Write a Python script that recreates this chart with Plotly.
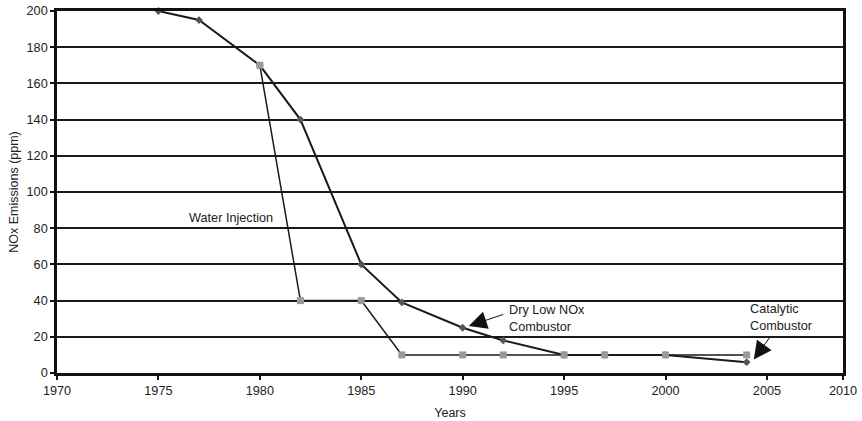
import plotly.graph_objects as go

# ---- data ----
dln_years = [1975, 1977, 1980, 1982, 1985, 1987, 1990, 1992, 1995, 1997, 2000, 2004]
dln_nox = [200, 195, 170, 140, 60, 39, 25, 18, 10, 10, 10, 6]

wi_years = [1980, 1982, 1985, 1987, 1990, 1992, 1995, 1997, 2000, 2004]
wi_nox = [170, 40, 40, 10, 10, 10, 10, 10, 10, 10]

x_tick_labels = ["1970", "1975", "1980", "1985", "1990", "1995", "2000", "2005", "2010"]
y_ticks = [0, 20, 40, 60, 80, 100, 120, 140, 160, 180, 200]

X_MIN = 1970
X_MAX = 2008.75  # right border of the plotted area in the reference
x_tick_vals = [1970, 1975, 1980, 1985, 1990, 1995, 2000, 2005, X_MAX]

FONT = "Liberation Sans, Arial, sans-serif"
TXT = "#222222"

fig = go.Figure()

fig.add_trace(go.Scatter(
    x=dln_years, y=dln_nox, mode="lines+markers",
    line=dict(color="#1a1a1a", width=2),
    marker=dict(symbol="diamond", size=6, color="#555555"),
    cliponaxis=False, showlegend=False, name="Dry Low NOx",
))
fig.add_trace(go.Scatter(
    x=wi_years, y=wi_nox, mode="lines+markers",
    line=dict(color="#1a1a1a", width=1.5),
    marker=dict(symbol="square", size=7, color="#999999"),
    cliponaxis=False, showlegend=False, name="Water Injection",
))

annots = [
    dict(x=1976.4, y=85.4, text="Water Injection", showarrow=False,
         xanchor="left", yanchor="middle"),
    dict(x=1992.2, y=30.0, text="Dry Low NOx<br>Combustor", showarrow=False,
         xanchor="left", yanchor="middle", align="left"),
    dict(x=2004.07, y=30.4, text="Catalytic<br>Combustor", showarrow=False,
         xanchor="left", yanchor="middle", align="left"),
    dict(x=1990.3, y=26.0, text="", showarrow=True, ax=36, ay=-12,
         arrowhead=2, arrowsize=3.6, arrowwidth=1, arrowcolor="#111111"),
    dict(x=2004.35, y=7.4, text="", showarrow=True, ax=18, ay=-25,
         arrowhead=2, arrowsize=3.6, arrowwidth=1, arrowcolor="#111111"),
]
for a in annots:
    a.update(xref="x", yref="y", font=dict(family=FONT, size=12.7, color=TXT))
    fig.add_annotation(**a)

fig.update_layout(
    width=862, height=421,
    margin=dict(l=57, r=19, t=11, b=48, autoexpand=False),
    paper_bgcolor="white", plot_bgcolor="white",
    font=dict(family=FONT, size=12.7, color=TXT),
    xaxis=dict(
        range=[X_MIN, X_MAX], tickvals=x_tick_vals, ticktext=x_tick_labels,
        showgrid=False, zeroline=False, automargin=False,
        showline=True, linecolor="#111111", linewidth=2.5, mirror=True,
        ticks="outside", ticklen=4, tickwidth=1.5, tickcolor="#111111",
        title=dict(text="Years", font=dict(size=12.5), standoff=12),
    ),
    yaxis=dict(
        range=[0, 200], tickvals=y_ticks, automargin=False,
        showgrid=True, gridcolor="#1a1a1a", gridwidth=1.8, zeroline=False,
        showline=True, linecolor="#111111", linewidth=2.5, mirror=True,
        ticks="outside", ticklen=4, tickwidth=1.5, tickcolor="#111111",
        title=dict(text="NOx Emissions (ppm)", font=dict(size=12.5), standoff=6),
    ),
)

fig.write_html(
    "out.html",
    config={"displayModeBar": False},
    post_script="document.body.style.margin='0px';document.body.style.overflow='hidden';",
)
